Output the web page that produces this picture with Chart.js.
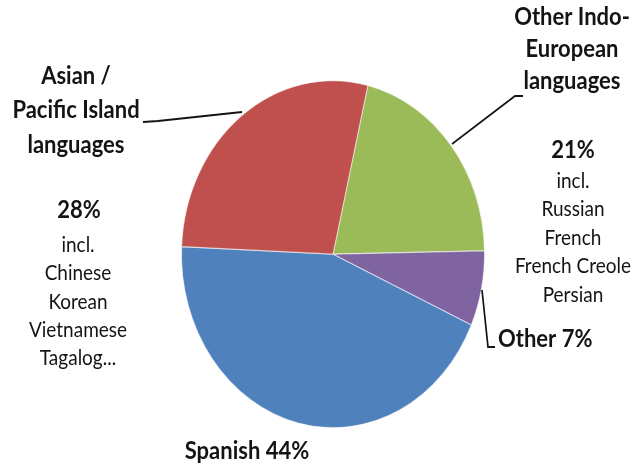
<!DOCTYPE html>
<html>
<head>
<meta charset="utf-8">
<script src="https://cdn.jsdelivr.net/npm/chart.js@4.4.0/dist/chart.umd.min.js"></script>
<style>
  html,body{margin:0;padding:0;background:#fff;}
  #wrap{width:632px;height:465px;}
</style>
</head>
<body>
<div id="wrap"><canvas id="chart" width="632" height="465"></canvas></div>
<script>
// ---- data (clockwise from the top, as in the picture) ----
const categories = ['Other Indo-European languages', 'Other', 'Spanish', 'Asian / Pacific Island languages'];
const shares = [21, 7, 44, 28];
const colors = ['#9BBB59', '#8064A2', '#4F81BD', '#C0504D'];

// ---- label texts ----
const asianHead = ['Asian /', 'Pacific Island', 'languages'];
const asianIncl = ['incl.', 'Chinese', 'Korean', 'Vietnamese', 'Tagalog...'];
const indoHead  = ['Other Indo-', 'European', 'languages'];
const indoIncl  = ['incl.', 'Russian', 'French', 'French Creole', 'Persian'];

(function(){
  const SY = 1.145;            // the original picture is stretched vertically
  const BOLD = 'bold 22px Lato';
  const REG  = '19px Lato';
  const INK  = '#141414';

  function text(ctx, s, x, y, font, align){
    ctx.font = font; ctx.textAlign = align || 'center'; ctx.textBaseline = 'alphabetic';
    ctx.fillText(s, x, y / SY);
  }
  function block(ctx, lines, x, y0, lh, font){
    lines.forEach((s, i) => text(ctx, s, x, y0 + i * lh, font));
  }
  function leader(ctx, pts){
    ctx.beginPath();
    pts.forEach((p, i) => i ? ctx.lineTo(p[0], p[1] / SY) : ctx.moveTo(p[0], p[1] / SY));
    ctx.stroke();
  }

  function drawLabels(ctx){
    ctx.fillStyle = INK; ctx.strokeStyle = INK; ctx.lineWidth = 1.7;

    // Asian / Pacific Island
    block(ctx, asianHead, 76, 84, 34.5, BOLD);
    text(ctx, shares[3] + '%', 79, 218, BOLD);
    block(ctx, asianIncl, 78, 252, 28.3, REG);
    leader(ctx, [[143, 122], [158, 121], [242, 112]]);

    // Other Indo-European
    block(ctx, indoHead, 572, 25, 31.8, BOLD);
    text(ctx, shares[0] + '%', 573, 158, BOLD);
    block(ctx, indoIncl, 573, 188, 28.4, REG);
    leader(ctx, [[523, 96], [515, 96], [452, 144]]);

    // Other
    text(ctx, categories[1] + ' ' + shares[1] + '%', 498, 347, BOLD, 'left');
    leader(ctx, [[482, 290], [488, 347], [495, 347]]);

    // Spanish
    text(ctx, categories[2] + ' ' + shares[2] + '%', 247, 459, BOLD);
  }

  const stretch = {
    id: 'stretch',
    beforeDraw(c){ c.ctx.save(); c.ctx.scale(1, SY); },
    afterDraw(c){ drawLabels(c.ctx); c.ctx.restore(); }
  };

  new Chart(document.getElementById('chart'), {
    type: 'pie',
    data: {
      labels: categories,
      datasets: [{
        data: shares,
        backgroundColor: colors,
        borderColor: 'rgba(255,255,255,0.55)',
        borderWidth: 1
      }]
    },
    options: {
      responsive: false,
      animation: false,
      events: [],
      rotation: 13.3,
      layout: { padding: { left: 181, right: 147, top: 70, bottom: 91 } },
      plugins: { legend: { display: false }, tooltip: { enabled: false } }
    },
    plugins: [stretch]
  });
})();
</script>
</body>
</html>
